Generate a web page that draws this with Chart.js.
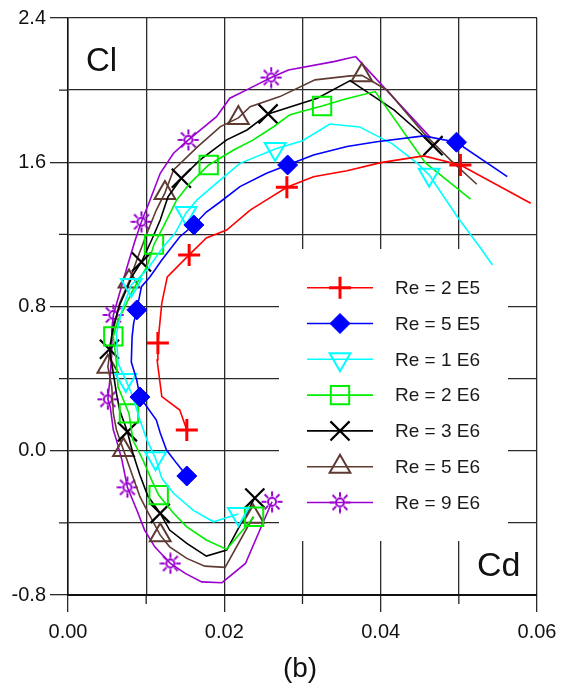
<!DOCTYPE html>
<html>
<head>
<meta charset="utf-8">
<script src="https://cdn.jsdelivr.net/npm/chart.js@4/dist/chart.umd.min.js"></script>
<style>
  html, body { margin: 0; padding: 0; background: #fff; }
  canvas { display: block; }
</style>
</head>
<body>
<canvas id="polar" width="563" height="690"></canvas>
<script>
// drag polar: Cd on x, Cl on y, one curve per Reynolds number
const redCd = [0.0152, 0.0143, 0.0120, 0.0114, 0.0115, 0.0120, 0.0127, 0.0141, 0.0155, 0.0177, 0.0203, 0.0233, 0.0254, 0.0280, 0.0314, 0.0357, 0.0400, 0.0455, 0.0502, 0.0592];
const redCl = [0.115, 0.226, 0.300, 0.503, 0.598, 0.819, 0.964, 1.025, 1.086, 1.180, 1.224, 1.335, 1.391, 1.461, 1.520, 1.553, 1.598, 1.635, 1.585, 1.373];
const redMarks = [0, 4, 8, 13, 18];

const blueCd = [0.0152, 0.0139, 0.0126, 0.0118, 0.0113, 0.0092, 0.0088, 0.0081, 0.0082, 0.0084, 0.0088, 0.0094, 0.0105, 0.0120, 0.0143, 0.0161, 0.0177, 0.0195, 0.0220, 0.0254, 0.0281, 0.0314, 0.0357, 0.0395, 0.0455, 0.0497, 0.0562];
const blueCl = [-0.140, -0.070, 0.004, 0.098, 0.170, 0.298, 0.392, 0.492, 0.632, 0.708, 0.781, 0.910, 0.965, 1.058, 1.187, 1.252, 1.324, 1.381, 1.465, 1.539, 1.585, 1.640, 1.687, 1.714, 1.746, 1.711, 1.520];
const blueMarks = [0, 5, 10, 15, 20, 25];

const cyanCd = [0.0218, 0.0186, 0.0160, 0.0135, 0.0120, 0.0112, 0.0101, 0.0092, 0.0083, 0.0074, 0.0064, 0.0062, 0.0069, 0.0081, 0.0101, 0.0122, 0.0137, 0.0151, 0.0165, 0.0190, 0.0220, 0.0265, 0.0300, 0.0335, 0.0373, 0.0415, 0.0447, 0.0462, 0.0498, 0.0528, 0.0543];
const cyanCl = [-0.351, -0.394, -0.329, -0.236, -0.153, -0.042, 0.059, 0.170, 0.300, 0.392, 0.485, 0.651, 0.781, 0.919, 1.003, 1.132, 1.206, 1.319, 1.391, 1.484, 1.594, 1.674, 1.719, 1.812, 1.796, 1.702, 1.594, 1.530, 1.298, 1.123, 1.030];
const cyanMarks = [0, 5, 9, 13, 17, 21, 27];

const greenCd = [0.0238, 0.0203, 0.0177, 0.0152, 0.0135, 0.0116, 0.0107, 0.0096, 0.0083, 0.0078, 0.0064, 0.0062, 0.0058, 0.0064, 0.0071, 0.0083, 0.0101, 0.0110, 0.0122, 0.0139, 0.0156, 0.0180, 0.0212, 0.0237, 0.0263, 0.0284, 0.0325, 0.0355, 0.0393, 0.0457, 0.0515];
const greenCl = [-0.366, -0.547, -0.495, -0.422, -0.347, -0.246, -0.163, -0.052, 0.059, 0.207, 0.355, 0.485, 0.634, 0.725, 0.781, 0.892, 1.021, 1.144, 1.243, 1.391, 1.483, 1.585, 1.668, 1.724, 1.797, 1.864, 1.912, 1.951, 1.992, 1.598, 1.395];
const greenMarks = [0, 5, 9, 12, 17, 21, 26];

const blackCd = [0.0239, 0.0203, 0.0177, 0.0152, 0.0130, 0.0118, 0.0102, 0.0092, 0.0083, 0.0076, 0.0066, 0.0062, 0.0058, 0.0053, 0.0058, 0.0066, 0.0083, 0.0094, 0.0107, 0.0118, 0.0128, 0.0145, 0.0169, 0.0203, 0.0229, 0.0256, 0.0319, 0.0361, 0.0417, 0.0451, 0.0467];
const blackCl = [-0.262, -0.551, -0.584, -0.514, -0.440, -0.347, -0.250, -0.134, -0.014, 0.105, 0.226, 0.318, 0.429, 0.563, 0.688, 0.808, 0.975, 1.047, 1.169, 1.280, 1.409, 1.511, 1.613, 1.724, 1.779, 1.868, 1.955, 2.053, 1.890, 1.761, 1.692];
const blackMarks = [0, 5, 9, 13, 17, 21, 25, 30];

const brownCd = [0.0237, 0.0201, 0.0175, 0.0152, 0.0130, 0.0118, 0.0103, 0.0092, 0.0083, 0.0071, 0.0062, 0.0058, 0.0056, 0.0051, 0.0058, 0.0066, 0.0078, 0.0088, 0.0101, 0.0113, 0.0124, 0.0135, 0.0166, 0.0195, 0.0218, 0.0233, 0.0271, 0.0316, 0.0361, 0.0376, 0.0408, 0.0455, 0.0489, 0.0523];
const brownCl = [-0.366, -0.647, -0.640, -0.597, -0.533, -0.468, -0.347, -0.255, -0.144, 0.004, 0.115, 0.207, 0.355, 0.466, 0.670, 0.818, 0.938, 1.058, 1.206, 1.335, 1.430, 1.557, 1.687, 1.798, 1.846, 1.908, 1.964, 2.057, 2.079, 2.082, 2.001, 1.761, 1.613, 1.478];
const brownMarks = [0, 5, 9, 13, 16, 20, 24, 29];

const purpleCd = [0.0261, 0.0227, 0.0197, 0.0171, 0.0150, 0.0131, 0.0111, 0.0098, 0.0088, 0.0076, 0.0069, 0.0062, 0.0058, 0.0054, 0.0051, 0.0054, 0.0056, 0.0056, 0.0058, 0.0066, 0.0077, 0.0086, 0.0094, 0.0105, 0.0118, 0.0135, 0.0154, 0.0190, 0.0207, 0.0233, 0.0260, 0.0282, 0.0340, 0.0368, 0.0464];
const purpleCl = [-0.283, -0.625, -0.732, -0.727, -0.680, -0.625, -0.533, -0.440, -0.329, -0.203, -0.052, 0.059, 0.115, 0.244, 0.285, 0.411, 0.540, 0.670, 0.753, 0.873, 1.040, 1.169, 1.270, 1.391, 1.539, 1.650, 1.724, 1.853, 1.955, 2.011, 2.070, 2.112, 2.158, 2.186, 1.735];
const purpleMarks = [0, 5, 9, 14, 18, 22, 26, 30];

const labels = ['Re = 2 E5', 'Re = 5 E5', 'Re = 1 E6', 'Re = 2 E6', 'Re = 3 E6', 'Re = 5 E6', 'Re = 9 E6'];

const FONT = "'Liberation Sans', Arial, sans-serif";
const PURPLE = '#9a00cf';

// the "sun" marker: small ring with 8 rays
const sunImg = (() => {
  const c = document.createElement('canvas');
  c.width = 22; c.height = 22;
  const g = c.getContext('2d');
  g.strokeStyle = PURPLE;
  g.lineWidth = 2;
  g.beginPath();
  g.arc(11, 11, 4, 0, Math.PI * 2);
  g.stroke();
  g.beginPath();
  for (let k = 0; k < 8; k++) {
    const a = k * Math.PI / 4;
    g.moveTo(11 + Math.cos(a) * 5.5, 11 + Math.sin(a) * 5.5);
    g.lineTo(11 + Math.cos(a) * 10.5, 11 + Math.sin(a) * 10.5);
  }
  g.stroke();
  return c;
})();

const series = [
  { cd: redCd, cl: redCl, marks: redMarks, color: '#ff0000', style: 'cross', rot: 0, r: 11, bw: 3, fill: '#ff0000' },
  { cd: blueCd, cl: blueCl, marks: blueMarks, color: '#0000ff', style: 'rectRot', rot: 0, r: 10, bw: 1, fill: '#0000ff' },
  { cd: cyanCd, cl: cyanCl, marks: cyanMarks, color: '#00ffff', style: 'triangle', rot: 180, r: 12, bw: 2, fill: 'rgba(0,0,0,0)' },
  { cd: greenCd, cl: greenCl, marks: greenMarks, color: '#00ee00', style: 'rect', rot: 0, r: 13, bw: 2, fill: 'rgba(0,0,0,0)' },
  { cd: blackCd, cl: blackCl, marks: blackMarks, color: '#000000', style: 'crossRot', rot: 0, r: 13.5, bw: 2.2, fill: '#000000' },
  { cd: brownCd, cl: brownCl, marks: brownMarks, color: '#5e3a33', style: 'triangle', rot: 0, r: 12, bw: 2, fill: 'rgba(0,0,0,0)' },
  { cd: purpleCd, cl: purpleCl, marks: purpleMarks, color: PURPLE, style: sunImg, rot: 0, r: 10, bw: 2, fill: 'rgba(0,0,0,0)' }
];

const datasets = series.map((s, i) => ({
  label: labels[i],
  data: s.cd.map((x, j) => ({ x: x, y: s.cl[j] })),
  showLine: true,
  borderColor: s.color,
  borderWidth: 1.6,
  tension: 0,
  pointStyle: s.style,
  rotation: s.rot,
  pointRadius: ctx => s.marks.includes(ctx.dataIndex) ? s.r : 0,
  pointHoverRadius: ctx => s.marks.includes(ctx.dataIndex) ? s.r : 0,
  pointBorderColor: s.color,
  pointBackgroundColor: s.fill,
  pointBorderWidth: s.bw
}));

const isMajorX = v => Math.round(v * 100) % 2 === 0;
const isMajorY = v => Math.round(v * 10) % 8 === 0;

const decorations = {
  id: 'decorations',
  beforeDatasetsDraw(chart) {
    const ctx = chart.ctx;
    const xs = chart.scales.x, ys = chart.scales.y;
    // minor tick marks
    ctx.save();
    ctx.strokeStyle = '#222';
    ctx.lineWidth = 1.3;
    ctx.beginPath();
    xs.ticks.forEach(t => {
      if (!isMajorX(t.value)) {
        const px = xs.getPixelForValue(t.value);
        ctx.moveTo(px, ys.bottom);
        ctx.lineTo(px, ys.bottom + 9);
      }
    });
    ys.ticks.forEach(t => {
      if (!isMajorY(t.value)) {
        const py = ys.getPixelForValue(t.value);
        ctx.moveTo(xs.left - 9, py);
        ctx.lineTo(xs.left, py);
      }
    });
    ctx.stroke();
    // legend panel hides the grid behind it
    ctx.fillStyle = '#fff';
    ctx.fillRect(279, 249, 229, 292);
    ctx.restore();
  },
  afterDatasetsDraw(chart) {
    const ctx = chart.ctx;
    ctx.save();
    series.forEach((s, i) => {
      const y = 287.7 + 35.8 * i;
      ctx.strokeStyle = s.color;
      ctx.lineWidth = 1.6;
      ctx.beginPath();
      ctx.moveTo(307, y);
      ctx.lineTo(373, y);
      ctx.stroke();
      ctx.strokeStyle = s.color;
      ctx.fillStyle = s.fill;
      ctx.lineWidth = s.bw;
      Chart.helpers.drawPoint(ctx, { pointStyle: s.style, rotation: s.rot, radius: s.r, borderWidth: s.bw }, 340, y);
      ctx.fillStyle = '#1a1a1a';
      ctx.font = '19px ' + FONT;
      ctx.textAlign = 'left';
      ctx.textBaseline = 'middle';
      ctx.fillText(labels[i], 395, y + 1);
    });
    ctx.restore();
  },
  afterDraw(chart) {
    const ctx = chart.ctx;
    ctx.save();
    ctx.fillStyle = '#111';
    ctx.textBaseline = 'alphabetic';
    ctx.textAlign = 'left';
    ctx.font = '33px ' + FONT;
    ctx.fillText('Cl', 86, 71);
    ctx.font = '34px ' + FONT;
    ctx.fillText('Cd', 477, 576);
    ctx.textAlign = 'center';
    ctx.font = '28px ' + FONT;
    ctx.fillText('(b)', 300, 677);
    ctx.restore();
  }
};

new Chart(document.getElementById('polar'), {
  type: 'scatter',
  data: { datasets },
  options: {
    responsive: false,
    animation: false,
    events: [],
    layout: { padding: { left: 0, right: 26, top: 18, bottom: 0 } },
    plugins: { legend: { display: false }, tooltip: { enabled: false } },
    scales: {
      x: {
        type: 'linear',
        min: 0,
        max: 0.06,
        afterFit(s) { s.height = 95; s.paddingLeft = 0; s.paddingRight = 0; },
        border: { color: '#111', width: 2 },
        grid: {
          color: '#2a2a2a',
          lineWidth: 1.3,
          tickLength: 17,
          tickColor: ctx => isMajorX(ctx.tick.value) ? '#2a2a2a' : 'rgba(0,0,0,0)'
        },
        ticks: {
          stepSize: 0.01,
          autoSkip: false,
          maxRotation: 0,
          padding: 8,
          color: '#111',
          font: { family: FONT, size: 20 },
          callback: v => isMajorX(v) ? (Math.abs(v) < 1e-9 ? 0 : v).toFixed(2) : ''
        }
      },
      y: {
        type: 'linear',
        min: -0.8,
        max: 2.4,
        afterFit(s) { s.width = 68; s.paddingTop = 0; s.paddingBottom = 0; },
        border: { color: '#111', width: 1.5 },
        grid: {
          color: '#2a2a2a',
          lineWidth: 1.3,
          tickLength: 18,
          tickColor: ctx => isMajorY(ctx.tick.value) ? '#2a2a2a' : 'rgba(0,0,0,0)'
        },
        ticks: {
          stepSize: 0.4,
          autoSkip: false,
          padding: 4,
          color: '#111',
          font: { family: FONT, size: 20 },
          callback: v => isMajorY(v) ? (Math.abs(v) < 1e-9 ? 0 : v).toFixed(1) : ''
        }
      }
    }
  },
  plugins: [decorations]
});
</script>
</body>
</html>
